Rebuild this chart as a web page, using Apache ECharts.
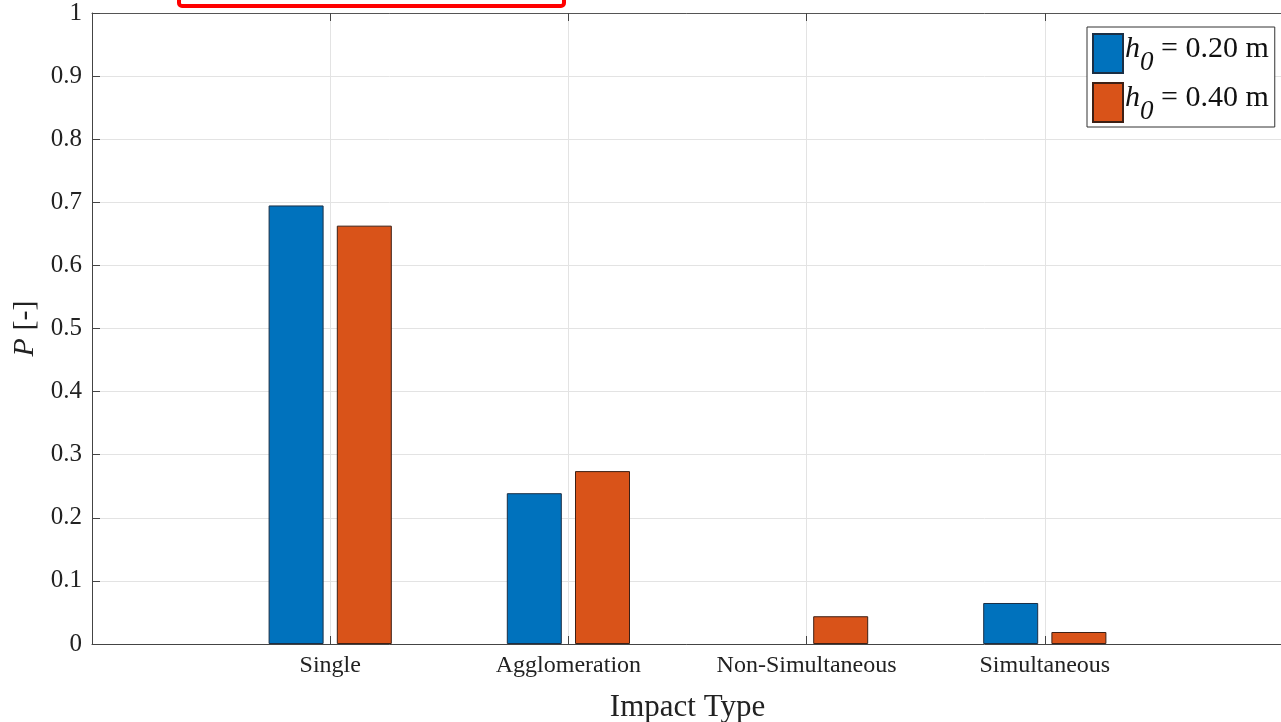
<!DOCTYPE html>
<html>
<head>
<meta charset="utf-8">
<script src="https://cdn.jsdelivr.net/npm/echarts@6/dist/echarts.min.js"></script>
<style>
  html, body { margin: 0; padding: 0; background: #fff; }
  #chart { width: 1281px; height: 722px; }
</style>
</head>
<body>
<div id="chart"></div>
<script>
// impact types (empty slots at both ends so ticks sit like the original)
const categories = ['', 'Single', 'Agglomeration', 'Non-Simultaneous', 'Simultaneous', '']
const h020 = ['-', 0.695, 0.239, 0, 0.065, '-']
const h040 = ['-', 0.663, 0.274, 0.044, 0.019, '-']
const seriesNames = ['h0_020', 'h0_040']
const legendLabels = { h0_020: '0.20 m', h0_040: '0.40 m' }

const serif = 'Liberation Serif, Times New Roman, serif'
const chart = echarts.init(document.getElementById('chart'))

// zero-height bars get no outline (matlab draws nothing there)
const toBars = (arr) => arr.map((v) => (v === 0 ? { value: 0, itemStyle: { borderWidth: 0 } } : v))

chart.setOption({
  animation: false,
  textStyle: { fontFamily: serif },
  grid: { left: 92, top: 13, width: 1191, height: 631, outerBoundsMode: 'none', containLabel: false },
  legend: {
    data: seriesNames,
    orient: 'vertical',
    left: 1087,
    top: 27,
    icon: 'rect',
    itemWidth: 30,
    itemHeight: 39,
    itemGap: 6,
    backgroundColor: '#fff',
    borderColor: '#333',
    borderWidth: 1,
    borderRadius: 0,
    padding: [6, 6, 2, 5],
    formatter: (name) => `{i|h}{s|0}{t| = ${legendLabels[name]}}`,
    textStyle: {
      fontFamily: serif,
      color: '#111',
      height: 39,
      lineHeight: 39,
      padding: [0, 0, 0, -3],
      rich: {
        i: { fontFamily: serif, fontStyle: 'italic', fontSize: 30, color: '#111', lineHeight: 36, verticalAlign: 'top' },
        s: { fontFamily: serif, fontStyle: 'italic', fontSize: 27, color: '#111', lineHeight: 24, padding: [15, 0, 0, 0], verticalAlign: 'top' },
        t: { fontFamily: serif, fontSize: 30, color: '#111', lineHeight: 36, verticalAlign: 'top' }
      }
    }
  },
  xAxis: [
    {
      type: 'category',
      data: categories,
      boundaryGap: false,
      name: 'Impact Type',
      nameLocation: 'middle',
      nameGap: 48,
      nameTextStyle: { fontFamily: serif, fontSize: 31, color: '#222' },
      axisLine: { lineStyle: { color: '#444', width: 1 } },
      axisTick: { inside: true, length: 8, lineStyle: { color: '#444' }, interval: (i) => i > 0 && i < 5 },
      axisLabel: { interval: 0, margin: 10, fontFamily: serif, fontSize: 24, color: '#222' },
      splitLine: { show: true, lineStyle: { color: '#e3e3e3', width: 1 } }
    },
    {
      type: 'category',
      data: categories,
      boundaryGap: false,
      position: 'top',
      axisLine: { lineStyle: { color: '#555', width: 1 } },
      axisTick: { inside: true, length: 8, lineStyle: { color: '#444' }, interval: (i) => i > 0 && i < 5 },
      axisLabel: { show: false },
      splitLine: { show: false }
    }
  ],
  yAxis: {
    type: 'value',
    min: 0,
    max: 1,
    interval: 0.1,
    name: '{p|P} [-]',
    nameLocation: 'middle',
    nameGap: 38,
    nameTextStyle: {
      fontFamily: serif,
      fontSize: 30,
      color: '#222',
      rich: {
        p: { fontFamily: serif, fontStyle: 'italic', fontSize: 30, color: '#222' }
      }
    },
    axisLine: { show: true, lineStyle: { color: '#444', width: 1 } },
    axisTick: { show: true, inside: true, length: 8, lineStyle: { color: '#444' } },
    axisLabel: { margin: 10, fontFamily: serif, fontSize: 25, color: '#222' },
    splitLine: { show: true, lineStyle: { color: '#e3e3e3', width: 1 } }
  },
  series: [
    {
      name: seriesNames[0],
      type: 'bar',
      data: toBars(h020),
      barWidth: 55,
      barGap: '24%',
      itemStyle: { color: '#0072BD', borderColor: '#1b2f45', borderWidth: 1 }
    },
    {
      name: seriesNames[1],
      type: 'bar',
      data: toBars(h040),
      barWidth: 55,
      barGap: '24%',
      itemStyle: { color: '#D95319', borderColor: '#3d2015', borderWidth: 1 }
    }
  ],
  graphic: [
    {
      type: 'rect',
      shape: { x: 179, y: -12, width: 385, height: 18, r: 3 },
      style: { fill: 'none', stroke: '#ff0000', lineWidth: 4 },
      z: 100
    }
  ]
})
</script>
</body>
</html>
